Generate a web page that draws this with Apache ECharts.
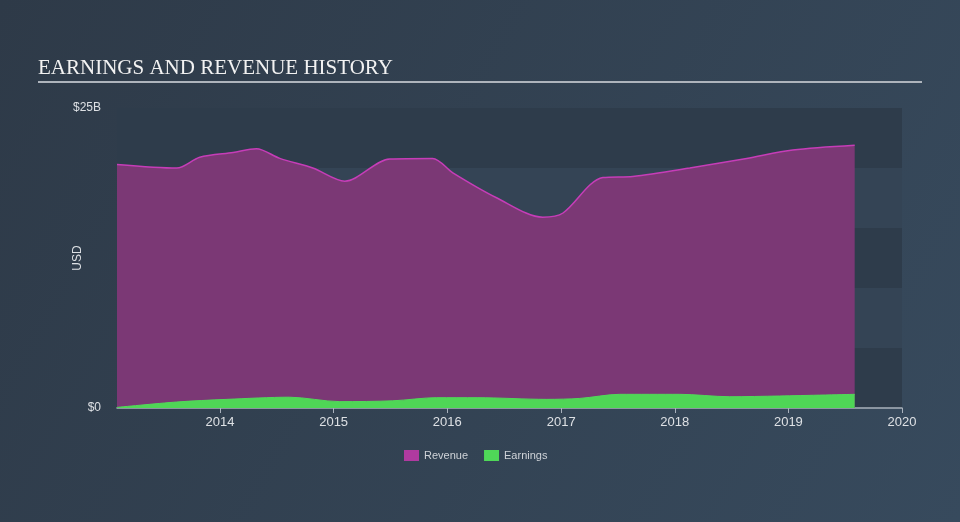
<!DOCTYPE html>
<html>
<head>
<meta charset="utf-8">
<script src="https://cdn.jsdelivr.net/npm/echarts@6/dist/echarts.min.js"></script>
<style>html,body{margin:0;padding:0;background:#313f4f;}#c{width:960px;height:522px;}</style>
</head>
<body>
<div id="c"></div>
<script>
const revenueDates = ['2013-02-04','2013-08-15','2013-10-28','2014-02-12','2014-04-28','2014-07-12','2014-10-26','2015-02-06','2015-06-30','2015-11-15','2016-01-19','2016-06-09','2016-11-03','2017-01-07','2017-04-04','2017-05-15','2017-08-19','2018-02-18','2018-08-20','2019-01-15','2019-08-02'];
const revenue = [20.3,20.0,20.9,21.3,21.6,20.8,20.0,18.9,20.75,20.8,19.6,17.5,15.9,16.25,18.6,19.2,19.3,20.0,20.8,21.5,21.9];
const earningsDates = ['2013-02-04','2013-08-15','2014-01-23','2014-08-12','2015-01-21','2015-07-10','2015-11-28','2016-04-06','2016-11-16','2017-03-02','2017-07-08','2018-01-17','2018-06-27','2018-12-04','2019-08-02'];
const earnings = [0.05,0.5,0.72,0.9,0.53,0.6,0.86,0.86,0.72,0.8,1.14,1.14,0.94,1.0,1.14];
const yTickLabels = {0: '$0', 25: '$25B'};
const seriesNames = ['Revenue', 'Earnings'];

const chart = echarts.init(document.getElementById('c'), null, {renderer: 'canvas'});
const toPairs = (ds, arr) => ds.map((d, i) => [d, arr[i]]);
chart.setOption({
  animation: false,
  backgroundColor: new echarts.graphic.LinearGradient(0, 0, 1, 1, [
    {offset: 0, color: '#2e3a48'}, {offset: 1, color: '#374a5d'}
  ]),
  title: {
    text: 'EARNINGS AND REVENUE HISTORY',
    left: 33, top: 53,
    textStyle: {fontFamily: 'Liberation Serif', fontWeight: 'normal', fontSize: 21, color: '#f2f2f2'}
  },
  graphic: [{
    type: 'line', shape: {x1: 38, y1: 82, x2: 922, y2: 82},
    style: {stroke: '#aeb4bc', lineWidth: 2}
  }],
  grid: {left: 117, right: 58, top: 108, bottom: 114},
  legend: {
    left: 399, top: 445,
    itemWidth: 15, itemHeight: 11, itemGap: 16, icon: 'rect',
    textStyle: {color: '#cfd3d8', fontSize: 11, fontFamily: 'Liberation Sans'},
    data: seriesNames
  },
  xAxis: {
    type: 'time',
    min: '2013-02-04', max: '2020-01-01',
    minInterval: 365 * 86400000, maxInterval: 366 * 86400000,
    axisLine: {lineStyle: {color: '#a9b1bc', width: 1.5}},
    axisTick: {show: true, length: 5, lineStyle: {color: '#a9b1bc'}},
    axisLabel: {color: '#dde0e4', fontSize: 13, fontFamily: 'Liberation Sans', margin: 8,
      showMinLabel: false, showMaxLabel: true,
      formatter: v => String(new Date(v).getFullYear())},
    splitLine: {show: false}
  },
  yAxis: {
    type: 'value', min: 0, max: 25, interval: 5,
    name: 'USD', nameLocation: 'middle', nameGap: 33, nameRotate: 90, nameMoveOverlap: false,
    nameTextStyle: {color: '#dde0e4', fontSize: 12, fontFamily: 'Liberation Sans'},
    axisLine: {show: false}, axisTick: {show: false},
    axisLabel: {color: '#dde0e4', fontSize: 12, fontFamily: 'Liberation Sans', margin: 16,
      formatter: v => (yTickLabels[v] !== undefined ? yTickLabels[v] : '')},
    splitLine: {show: false},
    splitArea: {show: true, areaStyle: {color: ['#2e3c4b', '#344455']}}
  },
  series: [
    {
      name: seriesNames[0], type: 'line', data: toPairs(revenueDates, revenue), smooth: 0.3,
      showSymbol: false, symbol: 'none',
      itemStyle: {color: '#b03aa0'},
      lineStyle: {color: '#c63db8', width: 1.5},
      areaStyle: {color: '#7b3875', opacity: 1}
    },
    {
      name: seriesNames[1], type: 'line', data: toPairs(earningsDates, earnings), smooth: 0.3,
      showSymbol: false, symbol: 'none',
      itemStyle: {color: '#4fd858'},
      lineStyle: {color: '#52d85a', width: 1},
      areaStyle: {color: '#4fd656', opacity: 1}
    }
  ]
});
</script>
</body>
</html>
